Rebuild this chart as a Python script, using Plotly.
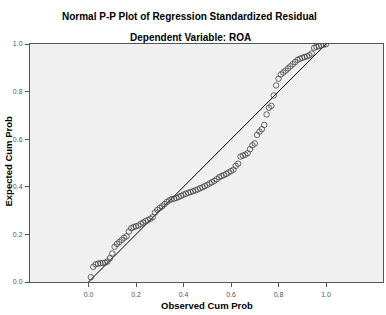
import plotly.graph_objects as go

# Observed cumulative probability (x) and expected cumulative probability (y)
observed_cum_prob = [
    0.01, 0.02, 0.03, 0.04, 0.05, 0.06, 0.07, 0.08, 0.09, 0.10,
    0.11, 0.12, 0.13, 0.14, 0.15, 0.16, 0.17, 0.18, 0.19, 0.20,
    0.21, 0.22, 0.23, 0.24, 0.25, 0.26, 0.27, 0.28, 0.29, 0.30,
    0.31, 0.32, 0.33, 0.34, 0.35, 0.36, 0.37, 0.38, 0.39, 0.40,
    0.41, 0.42, 0.43, 0.44, 0.45, 0.46, 0.47, 0.48, 0.49, 0.50,
    0.51, 0.52, 0.53, 0.54, 0.55, 0.56, 0.57, 0.58, 0.59, 0.60,
    0.61, 0.62, 0.63, 0.64, 0.65, 0.66, 0.67, 0.68, 0.69, 0.70,
    0.71, 0.72, 0.73, 0.74, 0.75, 0.76, 0.77, 0.78, 0.79, 0.80,
    0.81, 0.82, 0.83, 0.84, 0.85, 0.86, 0.87, 0.88, 0.89, 0.90,
    0.91, 0.92, 0.93, 0.94, 0.95, 0.96, 0.97, 0.98, 0.99, 1.00,
]
expected_cum_prob = [
    0.020, 0.064, 0.074, 0.077, 0.079, 0.080, 0.081, 0.086, 0.100, 0.120,
    0.148, 0.160, 0.168, 0.177, 0.186, 0.192, 0.212, 0.226, 0.231, 0.234,
    0.237, 0.244, 0.250, 0.256, 0.260, 0.266, 0.272, 0.292, 0.303, 0.311,
    0.318, 0.327, 0.336, 0.343, 0.348, 0.350, 0.353, 0.357, 0.362, 0.367,
    0.371, 0.375, 0.378, 0.381, 0.385, 0.389, 0.394, 0.398, 0.403, 0.408,
    0.414, 0.419, 0.425, 0.432, 0.440, 0.445, 0.449, 0.454, 0.460, 0.466,
    0.472, 0.488, 0.497, 0.527, 0.531, 0.535, 0.541, 0.558, 0.574, 0.582,
    0.618, 0.632, 0.642, 0.660, 0.704, 0.732, 0.740, 0.784, 0.826, 0.854,
    0.872, 0.880, 0.888, 0.897, 0.906, 0.915, 0.924, 0.933, 0.938, 0.942,
    0.945, 0.948, 0.953, 0.960, 0.984, 0.988, 0.991, 0.994, 0.997, 0.999,
]
ref_line_x = [0.0, 1.0]
ref_line_y = [0.0, 1.0]
tick_vals = [0.0, 0.2, 0.4, 0.6, 0.8, 1.0]
tick_text = ["0.0", "0.2", "0.4", "0.6", "0.8", "1.0"]

title_text = "Normal P-P Plot of Regression Standardized Residual"
subtitle_text = "Dependent Variable: ROA"
x_title = "Observed Cum Prob"
y_title = "Expected Cum Prob"

FONT = "Liberation Sans, Arial, sans-serif"

fig = go.Figure()
fig.add_trace(go.Scatter(
    x=ref_line_x, y=ref_line_y, mode="lines",
    line=dict(color="#000000", width=1), hoverinfo="skip", showlegend=False,
))
fig.add_trace(go.Scatter(
    x=observed_cum_prob, y=expected_cum_prob, mode="markers",
    marker=dict(symbol="circle-open", size=5.5, color="#444444",
                line=dict(width=0.8, color="#444444")),
    showlegend=False,
))

axis_common = dict(
    showgrid=False, zeroline=False,
    showline=True, linecolor="#555555", linewidth=1, mirror=True,
    ticks="outside", ticklen=4, tickcolor="#555555", tickwidth=1,
    tickvals=tick_vals, ticktext=tick_text,
    tickfont=dict(family=FONT, size=7, color="#555555"),
)

fig.update_layout(
    width=386, height=315,
    margin=dict(l=30, r=3, t=44, b=33, pad=0),
    paper_bgcolor="#ffffff", plot_bgcolor="#f0f0f0",
    xaxis=dict(range=[-0.2463, 1.240], **axis_common),
    yaxis=dict(range=[0.0, 1.0], **axis_common),
    font=dict(family=FONT),
)

fig.update_xaxes(ticklabelstandoff=2)
fig.update_yaxes(ticklabelstandoff=1)

annotations = [
    dict(text="<b>" + title_text + "</b>", x=189, y=17, size=10),
    dict(text="<b>" + subtitle_text + "</b>", x=190, y=37.5, size=10),
    dict(text="<b>" + x_title + "</b>", x=207, y=305.5, size=9.5),
    dict(text="<b>" + y_title + "</b>", x=7.5, y=162, size=9.5, angle=-90),
]
# convert page pixel positions to plot-area paper coords
pl, pr, pt, pb = 30, 383, 44, 282
ann_list = []
for a in annotations:
    ann_list.append(dict(
        text=a["text"],
        x=(a["x"] - pl) / (pr - pl), y=(pb - a["y"]) / (pb - pt),
        xref="paper", yref="paper", xanchor="center", yanchor="middle",
        textangle=a.get("angle", 0), showarrow=False,
        font=dict(family=FONT, size=a["size"], color="#000000"),
    ))
fig.update_layout(annotations=ann_list)

fig.write_html("out.html")
